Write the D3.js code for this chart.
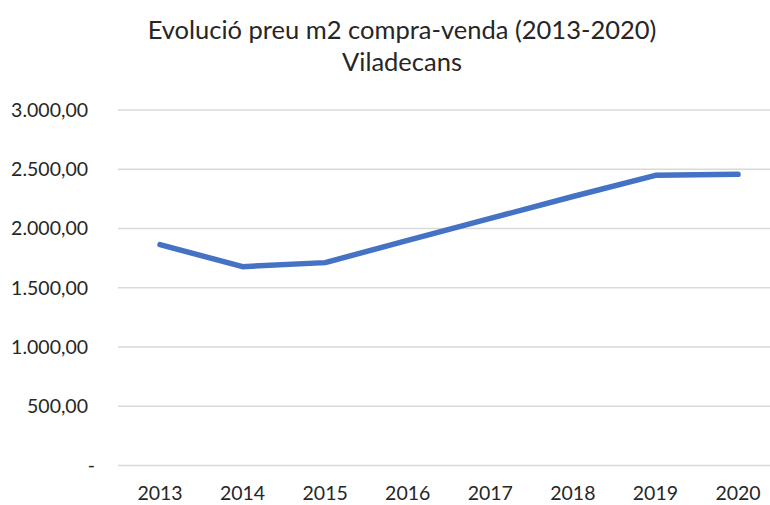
<!DOCTYPE html>
<html>
<head>
<meta charset="utf-8">
<script src="https://cdn.jsdelivr.net/npm/d3@7"></script>
<style>
  body { margin: 0; background: #fff; }
  text { font-family: Lato, "Open Sans", sans-serif; fill: #262626; }
</style>
</head>
<body>
<div id="chart"></div>
<script>
// data
const years = ['2013', '2014', '2015', '2016', '2017', '2018', '2019', '2020'];
const prices = [1864, 1678, 1712, 1900, 2085, 2270, 2449, 2457];
const yTicks = [0, 500, 1000, 1500, 2000, 2500, 3000];
const titleLines = ['Evolució preu m2 compra-venda (2013-2020)', 'Viladecans'];

const width = 770;
const height = 505;
const margin = { top: 110, right: 0, bottom: 40, left: 118 };

const svg = d3.select('#chart')
  .append('svg')
  .attr('width', width)
  .attr('height', height);

const x = d3.scalePoint()
  .domain(years)
  .range([160, 738]);

const y = d3.scaleLinear()
  .domain([0, 3000])
  .range([465.5, 110]);

// gridlines
svg.append('g')
  .selectAll('line')
  .data(yTicks)
  .join('line')
  .attr('x1', margin.left)
  .attr('x2', width)
  .attr('y1', d => y(d))
  .attr('y2', d => y(d))
  .attr('stroke', '#d9d9d9')
  .attr('stroke-width', 1.3);

// y tick labels, accounting style (zero shown as "-")
const fmt = d3.formatLocale({ decimal: ',', thousands: '.', grouping: [3], currency: ['', ''] }).format(',.2f');
svg.append('g')
  .selectAll('text')
  .data(yTicks)
  .join('text')
  .attr('x', d => d === 0 ? 95 : 88)
  .attr('y', d => y(d))
  .attr('dy', '0.35em')
  .attr('text-anchor', 'end')
  .style('font-size', '19.5px')
  .text(d => d === 0 ? '-' : fmt(d));

// x axis labels
svg.append('g')
  .selectAll('text')
  .data(years)
  .join('text')
  .attr('x', d => x(d))
  .attr('y', 500)
  .attr('text-anchor', 'middle')
  .style('font-size', '19.5px')
  .text(d => d);

// the line
const line = d3.line()
  .x((d, i) => x(years[i]))
  .y(d => y(d));

svg.append('path')
  .datum(prices)
  .attr('d', line)
  .attr('fill', 'none')
  .attr('stroke', '#4472c4')
  .attr('stroke-width', 5.5)
  .attr('stroke-linecap', 'round')
  .attr('stroke-linejoin', 'round');

// title
svg.append('g')
  .selectAll('text')
  .data(titleLines)
  .join('text')
  .attr('x', 402)
  .attr('y', (d, i) => 39 + i * 32)
  .attr('text-anchor', 'middle')
  .style('font-size', '25.5px')
  .text(d => d);
</script>
</body>
</html>
